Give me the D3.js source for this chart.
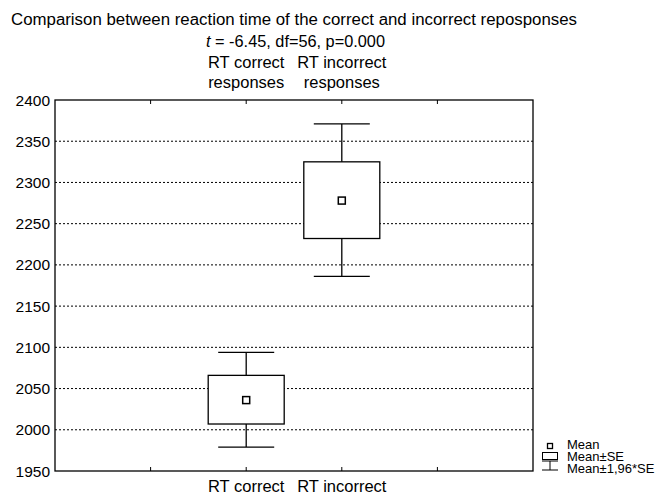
<!DOCTYPE html>
<html>
<head>
<meta charset="utf-8">
<script src="https://cdn.jsdelivr.net/npm/d3@7"></script>
<style>
body { margin: 0; background: #fff; }
svg text { font-family: "Liberation Sans", Arial, sans-serif; fill: #000; }
</style>
</head>
<body>
<div id="chart"></div>
<script>
// data
var categories = ["RT correct", "RT incorrect"];
var topLabels = [["RT correct", "responses"], ["RT incorrect", "responses"]];
var means = [2036, 2278];
var seLow = [2007, 2232];
var seHigh = [2066, 2325];
var ciLow = [1979, 2186];
var ciHigh = [2094, 2371];
var yTicks = [1950, 2000, 2050, 2100, 2150, 2200, 2250, 2300, 2350, 2400];
var positions = [1, 2, 3, 4];   // tick slots along x, categories sit on 2 and 3

var width = 665, height = 497;
var plotLeft = 55, plotRight = 533, plotTop = 100, plotBottom = 471;

var svg = d3.select("#chart").append("svg")
    .attr("width", width)
    .attr("height", height);

var x = d3.scaleLinear().domain([0, 5]).range([plotLeft, plotRight]);
var y = d3.scaleLinear().domain([1950, 2400]).range([plotBottom, plotTop]);

// titles
svg.append("text")
    .attr("x", 11).attr("y", 25)
    .attr("textLength", 566)
    .attr("lengthAdjust", "spacingAndGlyphs")
    .style("font-size", "16px")
    .text("Comparison between reaction time of the correct and incorrect reposponses");

var sub = svg.append("text")
    .attr("x", 206).attr("y", 47)
    .attr("textLength", 179)
    .attr("lengthAdjust", "spacingAndGlyphs")
    .style("font-size", "16px");
sub.append("tspan").style("font-style", "italic").text("t");
sub.append("tspan").text(" = -6.45, df=56, p=0.000");

// gridlines
svg.append("g").selectAll("line")
    .data(yTicks.filter(function(d) { return d > 1950 && d < 2400; }))
    .enter().append("line")
    .attr("x1", plotLeft).attr("x2", plotRight)
    .attr("y1", function(d) { return y(d); })
    .attr("y2", function(d) { return y(d); })
    .attr("stroke", "#000")
    .attr("stroke-width", 1)
    .attr("stroke-dasharray", "2,2");

// y labels
svg.append("g").selectAll("text")
    .data(yTicks)
    .enter().append("text")
    .attr("x", plotLeft - 5)
    .attr("y", function(d) { return y(d) + 5.5; })
    .attr("text-anchor", "end")
    .style("font-size", "15.5px")
    .text(function(d) { return d; });

// frame
svg.append("rect")
    .attr("x", plotLeft).attr("y", plotTop)
    .attr("width", plotRight - plotLeft).attr("height", plotBottom - plotTop)
    .attr("fill", "none")
    .attr("stroke", "#000")
    .attr("stroke-width", 1.3);

// inner ticks top & bottom
positions.forEach(function(p) {
    svg.append("line")
        .attr("x1", x(p)).attr("x2", x(p))
        .attr("y1", plotTop).attr("y2", plotTop + 4)
        .attr("stroke", "#000");
    svg.append("line")
        .attr("x1", x(p)).attr("x2", x(p))
        .attr("y1", plotBottom).attr("y2", plotBottom - 4)
        .attr("stroke", "#000");
});

// category labels
categories.forEach(function(c, i) {
    var cx = x(i + 2);
    svg.append("text")
        .attr("x", cx).attr("y", 492)
        .attr("text-anchor", "middle")
        .style("font-size", "16.5px")
        .text(c);
    svg.append("text")
        .attr("x", cx).attr("y", 68)
        .attr("text-anchor", "middle")
        .style("font-size", "16.5px")
        .text(topLabels[i][0]);
    svg.append("text")
        .attr("x", cx).attr("y", 88)
        .attr("text-anchor", "middle")
        .style("font-size", "16.5px")
        .text(topLabels[i][1]);
});

// boxes
var boxW = 76, capW = 56, mk = 7;
var g = svg.append("g").selectAll("g")
    .data(means)
    .enter().append("g");

g.append("line")
    .attr("x1", function(d, i) { return x(i + 2); })
    .attr("x2", function(d, i) { return x(i + 2); })
    .attr("y1", function(d, i) { return y(ciHigh[i]); })
    .attr("y2", function(d, i) { return y(ciLow[i]); })
    .attr("stroke", "#000").attr("stroke-width", 1.3);

g.append("line")
    .attr("x1", function(d, i) { return x(i + 2) - capW / 2; })
    .attr("x2", function(d, i) { return x(i + 2) + capW / 2; })
    .attr("y1", function(d, i) { return y(ciHigh[i]); })
    .attr("y2", function(d, i) { return y(ciHigh[i]); })
    .attr("stroke", "#000").attr("stroke-width", 1.3);

g.append("line")
    .attr("x1", function(d, i) { return x(i + 2) - capW / 2; })
    .attr("x2", function(d, i) { return x(i + 2) + capW / 2; })
    .attr("y1", function(d, i) { return y(ciLow[i]); })
    .attr("y2", function(d, i) { return y(ciLow[i]); })
    .attr("stroke", "#000").attr("stroke-width", 1.3);

g.append("rect")
    .attr("x", function(d, i) { return x(i + 2) - boxW / 2; })
    .attr("y", function(d, i) { return y(seHigh[i]); })
    .attr("width", boxW)
    .attr("height", function(d, i) { return y(seLow[i]) - y(seHigh[i]); })
    .attr("fill", "#fff")
    .attr("stroke", "#000").attr("stroke-width", 1.3);

g.append("rect")
    .attr("x", function(d, i) { return x(i + 2) - mk / 2; })
    .attr("y", function(d) { return y(d) - mk / 2; })
    .attr("width", mk).attr("height", mk)
    .attr("fill", "#fff")
    .attr("stroke", "#000").attr("stroke-width", 1.5);

// legend
var lg = svg.append("g");
lg.append("rect").attr("x", 547.5).attr("y", 443.5).attr("width", 5).attr("height", 5)
    .attr("fill", "#fff").attr("stroke", "#000").attr("stroke-width", 1.3);
lg.append("rect").attr("x", 542.5).attr("y", 452.5).attr("width", 15).attr("height", 7)
    .attr("fill", "#fff").attr("stroke", "#000").attr("stroke-width", 1);
lg.append("line").attr("x1", 542).attr("x2", 558).attr("y1", 461).attr("y2", 461).attr("stroke", "#000");
lg.append("line").attr("x1", 550).attr("x2", 550).attr("y1", 461).attr("y2", 470).attr("stroke", "#000");
lg.append("line").attr("x1", 542).attr("x2", 558).attr("y1", 470).attr("y2", 470).attr("stroke", "#000");
var legText = ["Mean", "Mean\u00b1SE", "Mean\u00b11,96*SE"];
lg.selectAll("text.leg").data(legText).enter().append("text")
    .attr("class", "leg")
    .attr("x", 567)
    .attr("y", function(d, i) { return 449 + i * 12; })
    .style("font-size", "13px")
    .text(function(d) { return d; });
</script>
</body>
</html>
